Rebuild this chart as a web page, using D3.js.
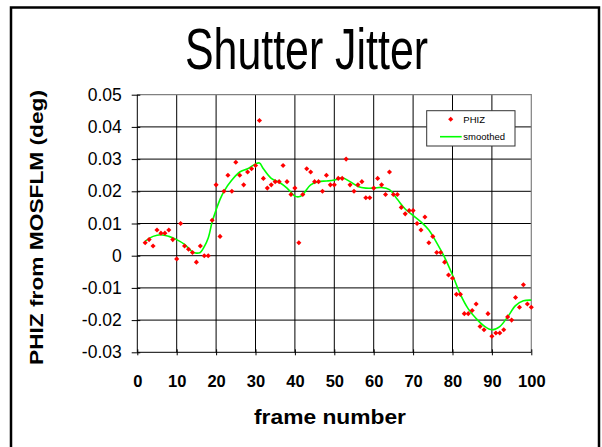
<!DOCTYPE html>
<html>
<head>
<meta charset="utf-8">
<script src="https://cdn.jsdelivr.net/npm/d3@7"></script>
<style>
  body { margin: 0; background: #fff; }
  svg { display: block; font-family: Arial, "Liberation Sans", sans-serif; }
</style>
</head>
<body>
<div id="mychart"></div>
<script>
// shutter jitter: PHIZ per frame plus a smoothed curve

const chartTarget = "#mychart"
const chartWidth = 602
const chartHeight = 447

// PHIZ values, frames 2..100
const phizStart = 2
const phiz = [
  0.004, 0.005, 0.003, 0.008, 0.007, 0.007, 0.008, 0.005, -0.001, 0.010,
  0.003, 0.002, 0.001, -0.002, 0.003, 0.000, 0.000, 0.011, 0.022, 0.006,
  0.020, 0.025, 0.020, 0.029, 0.025, 0.022, 0.026, 0.027, 0.028, 0.042,
  0.024, 0.021, 0.022, 0.023, 0.023, 0.028, 0.023, 0.019, 0.021, 0.004,
  0.019, 0.027, 0.026, 0.023, 0.023, 0.020, 0.025, 0.022, 0.022, 0.024,
  0.024, 0.030, 0.022, 0.020, 0.022, 0.023, 0.018, 0.018, 0.021, 0.024,
  0.022, 0.019, 0.026, 0.019, 0.019, 0.015, 0.013, 0.014, 0.014, 0.010,
  0.008, 0.012, 0.004, 0.006, 0.001, 0.001, -0.002, -0.006, -0.007, -0.012,
  -0.012, -0.018, -0.018, -0.017, -0.015, -0.022, -0.023, -0.018, -0.025, -0.024,
  -0.024, -0.023, -0.019, -0.020, -0.013, -0.016, -0.009, -0.015, -0.016
]

// smoothed curve, read at these frames
const smoothFrames = [2, 4, 6, 8, 10, 12, 14, 15, 16, 17, 18, 19, 20, 21, 22, 24, 26, 28, 30, 31,
  32, 34, 36, 38, 40, 41, 42, 44, 46, 48, 50, 52, 54, 56, 58, 60, 62, 64, 66, 68,
  70, 72, 74, 76, 78, 80, 82, 84, 86, 88, 90, 92, 94, 96, 98, 100]
const smoothValues = [0.0045, 0.006, 0.0065, 0.006, 0.005, 0.0035, 0.0012, 0.0008, 0.001, 0.0028,
  0.0055, 0.0105, 0.0142, 0.0175, 0.020, 0.0235, 0.026, 0.027, 0.0285, 0.0288,
  0.027, 0.024, 0.0228, 0.021, 0.0185, 0.0183, 0.019, 0.022, 0.023, 0.0232,
  0.0235, 0.0242, 0.023, 0.0215, 0.021, 0.021, 0.0212, 0.0205, 0.0175, 0.0145,
  0.0125, 0.0105, 0.008, 0.004, -0.0005, -0.006, -0.012, -0.0165, -0.0195, -0.0218,
  -0.023, -0.022, -0.019, -0.0155, -0.014, -0.0138]

const xTicks = [0, 10, 20, 30, 40, 50, 60, 70, 80, 90, 100]
const yTicks = [-0.03, -0.02, -0.01, 0, 0.01, 0.02, 0.03, 0.04, 0.05]

const titleText = "Shutter Jitter"
const xLabel = "frame number"
const yLabel = "PHIZ from MOSFLM (deg)"
const legendLabels = ["PHIZ", "smoothed"]

// plot area
const plotLeft = 137.3
const plotRight = 531.3
const plotTop = 94.7
const plotBottom = 352.3

const xScale = d3.scaleLinear([0, 100], [plotLeft, plotRight])
const yScale = d3.scaleLinear([-0.03, 0.05], [plotBottom, plotTop])

const svg = d3.select(chartTarget)
  .append("svg")
  .attr("width", chartWidth)
  .attr("height", chartHeight)
  .attr("viewBox", [0, 0, chartWidth, chartHeight])

// outer frame
svg.append("rect")
  .attr("x", 11).attr("y", 7.5)
  .attr("width", 588).attr("height", 460)
  .attr("fill", "none")
  .attr("stroke", "#000")
  .attr("stroke-width", 2.5)

// title
svg.append("text")
  .attr("x", 306.5).attr("y", 69.3)
  .attr("text-anchor", "middle")
  .attr("font-size", 57)
  .attr("textLength", 243)
  .attr("lengthAdjust", "spacingAndGlyphs")
  .text(titleText)

// grid
svg.append("g")
  .attr("stroke", "#000")
  .attr("stroke-width", 1)
  .call(g => g.selectAll("line.v").data(xTicks.slice(1, -1)).join("line")
    .attr("x1", d => xScale(d)).attr("x2", d => xScale(d))
    .attr("y1", plotTop).attr("y2", plotBottom))
  .call(g => g.selectAll("line.h").data(yTicks.slice(1, -1)).join("line")
    .attr("class", "h")
    .attr("x1", plotLeft).attr("x2", plotRight)
    .attr("y1", d => yScale(d)).attr("y2", d => yScale(d)))

// plot border top/right
svg.append("path")
  .attr("d", `M${plotLeft},${plotTop}H${plotRight}V${plotBottom}`)
  .attr("fill", "none")
  .attr("stroke", "#808080")
  .attr("stroke-width", 1.2)

// x axis
const xAxis = d3.axisBottom(xScale).tickValues(xTicks).tickSize(3).tickPadding(24)
svg.append("g")
  .attr("transform", `translate(0,${plotBottom})`)
  .call(xAxis)
  .call(g => g.select(".domain").attr("d", `M${plotLeft},0H${plotRight}`).attr("stroke", "#000"))
  .call(g => g.selectAll(".tick line").attr("y1", -3).attr("stroke", "#000"))
  .call(g => g.selectAll(".tick text")
    .attr("font-family", "Arial, 'Liberation Sans', sans-serif")
    .attr("font-size", 16.5).attr("font-weight", "bold").attr("fill", "#000")
    .attr("dy", 0).attr("y", 35))

// y axis
const yAxis = d3.axisLeft(yScale).tickValues(yTicks).tickSize(5.6).tickPadding(10)
  .tickFormat(d => d === 0 ? "0" : d3.format(".2f")(d).replace("−", "-"))
svg.append("g")
  .attr("transform", `translate(${plotLeft},0)`)
  .call(yAxis)
  .call(g => g.select(".domain").attr("d", `M0,${plotTop}V${plotBottom}`).attr("stroke", "#000"))
  .call(g => g.selectAll(".tick line").attr("x2", -5.6).attr("x1", 3).attr("stroke", "#000"))
  .call(g => g.selectAll(".tick text")
    .attr("font-family", "Arial, 'Liberation Sans', sans-serif")
    .attr("font-size", 17.5).attr("fill", "#000")
    .attr("x", -15.6))

// axis titles
svg.append("text")
  .attr("x", 330).attr("y", 424)
  .attr("text-anchor", "middle")
  .attr("font-size", 21).attr("font-weight", "bold")
  .attr("textLength", 152)
  .attr("lengthAdjust", "spacingAndGlyphs")
  .text(xLabel)

svg.append("text")
  .attr("transform", "translate(43.3,227.5) rotate(-90)")
  .attr("text-anchor", "middle")
  .attr("font-size", 19).attr("font-weight", "bold")
  .attr("textLength", 275)
  .attr("lengthAdjust", "spacingAndGlyphs")
  .text(yLabel)

// smoothed line
const line = d3.line()
  .x(d => xScale(d[0]))
  .y(d => yScale(d[1]))
  .curve(d3.curveCatmullRom)

svg.append("path")
  .datum(d3.zip(smoothFrames, smoothValues))
  .attr("d", line)
  .attr("fill", "none")
  .attr("stroke", "#00ff00")
  .attr("stroke-width", 1.6)

// PHIZ markers
const marker = d3.symbol(d3.symbolSquare, 13)
svg.append("g")
  .attr("fill", "#ff0000")
  .selectAll("path")
  .data(phiz)
  .join("path")
  .attr("transform", (d, i) => `translate(${xScale(i + phizStart)},${yScale(d)}) rotate(45)`)
  .attr("d", marker)

// legend
const legend = svg.append("g")
legend.append("rect")
  .attr("x", 426.7).attr("y", 110.7)
  .attr("width", 88.3).attr("height", 35.3)
  .attr("fill", "#fff")
  .attr("stroke", "#333")
  .attr("stroke-width", 1)
legend.append("path")
  .attr("transform", "translate(450.7,119.3) rotate(45)")
  .attr("d", marker)
  .attr("fill", "#ff0000")
legend.append("line")
  .attr("x1", 440).attr("x2", 461.7)
  .attr("y1", 136.7).attr("y2", 136.7)
  .attr("stroke", "#00ff00")
  .attr("stroke-width", 1.6)
legend.selectAll("text")
  .data(legendLabels)
  .join("text")
  .attr("x", 463.3)
  .attr("y", (d, i) => i === 0 ? 122.6 : 139.6)
  .attr("font-size", 9.5)
  .attr("fill", "#000")
  .text(d => d)
</script>
</body>
</html>
